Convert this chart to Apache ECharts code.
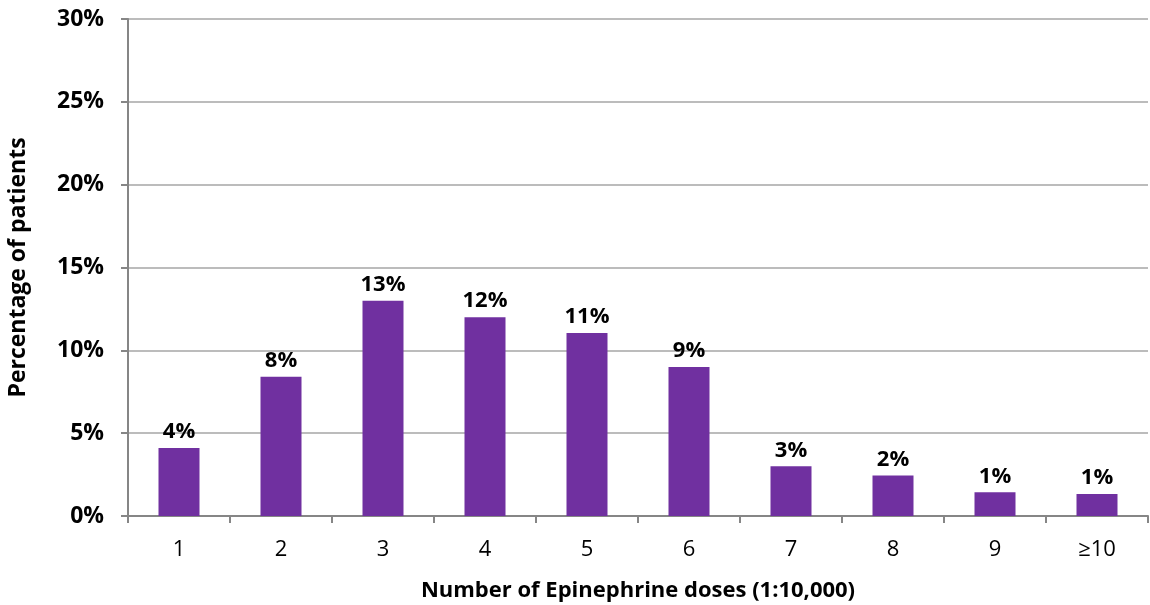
<!DOCTYPE html>
<html>
<head>
<meta charset="utf-8">
<script src="https://cdn.jsdelivr.net/npm/echarts@6/dist/echarts.min.js"></script>
<style>
  html, body { margin: 0; padding: 0; background: #fff; overflow: hidden; }
  #chart { width: 1150px; height: 605px; }
</style>
</head>
<body>
<div id="chart"></div>
<script>
const doses = ["1", "2", "3", "4", "5", "6", "7", "8", "9", "≥10"];
const percents = [4.1, 8.4, 13.0, 12.0, 11.05, 9.0, 3.0, 2.45, 1.43, 1.33];

const fontFamily = "'Open Sans', Lato, sans-serif";
const chart = echarts.init(document.getElementById("chart"));
const option = {
  animation: false,
  grid: { left: 128, right: 2, top: 19, bottom: 89, outerBoundsMode: "none" },
  xAxis: {
    type: "category",
    data: doses,
    name: "Number of Epinephrine doses (1:10,000)",
    nameLocation: "middle",
    nameGap: 64,
    nameTextStyle: { fontFamily, fontSize: 22, fontWeight: "bold", color: "#000" },
    axisLine: { lineStyle: { color: "#868686", width: 2 } },
    axisTick: { show: true, length: 7, lineStyle: { color: "#868686", width: 2 } },
    axisLabel: { fontFamily, fontSize: 22, color: "#000", margin: 23 }
  },
  yAxis: {
    type: "value",
    min: 0,
    max: 30,
    interval: 5,
    name: "Percentage of patients",
    nameLocation: "middle",
    nameGap: 98,
    nameTextStyle: { fontFamily, fontSize: 23, fontWeight: "bold", color: "#000" },
    axisLine: { show: true, lineStyle: { color: "#868686", width: 2 } },
    axisTick: { show: true, length: 7, lineStyle: { color: "#868686", width: 2 } },
    axisLabel: {
      fontFamily, fontSize: 23, fontWeight: "bold", color: "#000", margin: 24,
      formatter: (v) => v + "%"
    },
    splitLine: { lineStyle: { color: "#a6a6a6", width: 1.5 } }
  },
  series: [
    {
      type: "bar",
      data: percents,
      barWidth: 41,
      itemStyle: { color: "#7030a0" },
      label: {
        show: true,
        position: "top",
        distance: 5,
        fontFamily,
        fontSize: 22,
        fontWeight: "bold",
        color: "#000",
        formatter: (p) => Math.round(p.value) + "%"
      }
    }
  ]
};
chart.setOption(option);
</script>
</body>
</html>
